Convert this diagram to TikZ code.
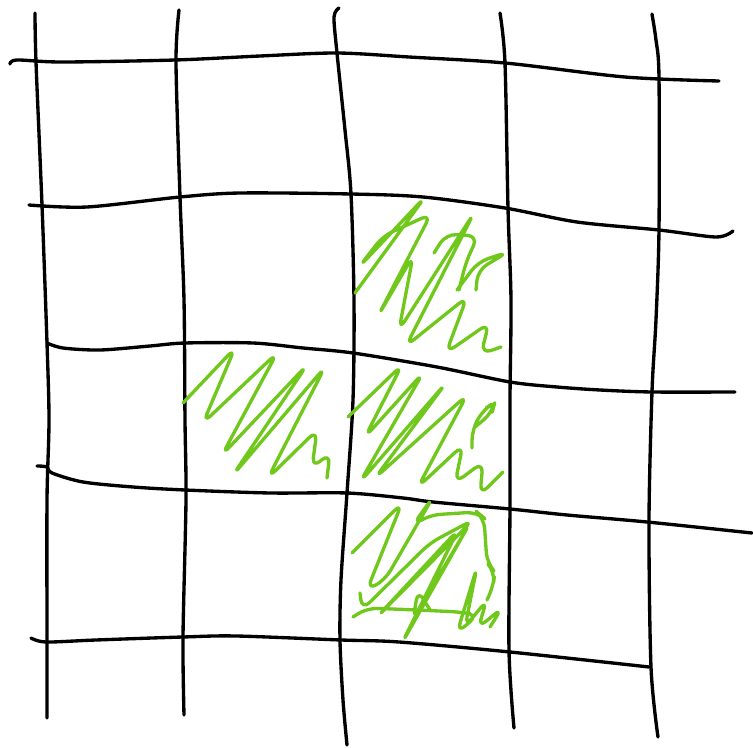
\documentclass[tikz,border=0pt]{standalone}
\definecolor{scribblegreen}{RGB}{112,200,28}
\begin{document}
\begin{tikzpicture}[x=0.01cm, y=-0.01cm,
  gridline/.style={draw=black, line width=0.95pt, line cap=round, line join=round},
  scribble/.style={draw=scribblegreen, line width=0.95pt, line cap=round, line join=round, rounded corners=3pt}
]
\useasboundingbox (0,0) rectangle (753,748);
\draw[gridline] plot[smooth, tension=0.5] coordinates {(35,13) (36,62) (42,205) (47,343) (49,420) (47,500) (47,640) (47,718)};
\draw[gridline] plot[smooth, tension=0.5] coordinates {(179,10) (176,62) (180,197) (184,300) (185,420) (186,500) (183,637) (184,715)};
\draw[gridline] plot[smooth, tension=0.5] coordinates {(339,8) (334,17) (337,53) (345,130) (351,194) (354,300) (353,400) (347,493) (341,580) (340,640) (343,700) (347,745)};
\draw[gridline] plot[smooth, tension=0.5] coordinates {(500,13) (505,63) (508,208) (511,300) (510,400) (510,507) (509,650) (514,728)};
\draw[gridline] plot[smooth, tension=0.5] coordinates {(652,14) (656,40) (659,77) (659,230) (656,320) (652,392) (649,522) (651,667) (658,737)};
\draw[gridline] plot[smooth, tension=0.5] coordinates {(10,64) (17,60) (62,62) (175,60) (260,56) (337,53) (409,57) (505,63) (625,77) (719,81)};
\draw[gridline] plot[smooth, tension=0.5] coordinates {(29,205) (87,207) (180,197) (240,193) (351,194) (423,197) (505,208) (577,222) (659,230) (716,237) (733,231)};
\draw[gridline] plot[smooth, tension=0.5] coordinates {(47,343) (63,348) (100,350) (150,346) (185,343) (253,343) (303,348) (353,353) (437,367) (510,382) (557,387) (600,390) (652,392) (735,392)};
\draw[gridline] plot[smooth, tension=0.5] coordinates {(37,466) (47,467) (52,473) (83,482) (133,487) (185,490) (270,493) (347,493) (403,498) (433,502) (510,509) (567,515) (647,522) (752,533)};
\draw[gridline] plot[smooth, tension=0.5] coordinates {(31,638) (46,642) (96,640) (183,637) (236,636) (341,640) (399,642) (510,652) (649,667)};
\draw[scribble] (355,293) -- (425,197) -- (359,267) -- (383,236) -- (431,214) -- (378,316) -- (413,256) -- (399,330) -- (474,213) -- (406,346) -- (467,297) -- (446,353) -- (489,323) -- (481,354) -- (501,347);
\draw[scribble] (434,253) -- (446,234) -- (478,236) -- (466,262) -- (459,290);
\draw[scribble] (457,290) -- (478,262) -- (508,252) -- (478,270) -- (476,290);
\draw[scribble] (183,403) -- (235,348) -- (203,423) -- (277,353) -- (222,455) -- (307,365) -- (233,475) -- (325,367) -- (268,478) -- (317,430) -- (312,468) -- (330,453) -- (327,478);
\draw[scribble] (348,417) -- (402,365) -- (365,437) -- (423,373) -- (360,482) -- (446,383) -- (375,478) -- (467,395) -- (418,487) -- (463,445) -- (455,483) -- (483,462) -- (480,495) -- (503,472);
\draw[scribble] (472,448) -- (472,430) -- (483,410) -- (495,402) -- (492,413) -- (475,427);
\draw[scribble] (352,553) -- (402,503) -- (367,590) -- (385,580) -- (433,497) -- (413,525) -- (430,515) -- (477,512) -- (484,518) -- (487,563) -- (495,572) -- (493,587) -- (487,600);
\draw[scribble] (360,593) -- (362,610) -- (430,543) -- (473,520) -- (377,617) -- (458,530) -- (402,643) -- (470,523) -- (413,620) -- (418,590) -- (430,610);
\draw[scribble] (353,617) -- (367,608) -- (417,610) -- (460,612) -- (478,615) -- (457,633) -- (477,567) -- (465,627) -- (487,600) -- (478,628) -- (502,608) -- (490,627);
\end{tikzpicture}
\end{document}
